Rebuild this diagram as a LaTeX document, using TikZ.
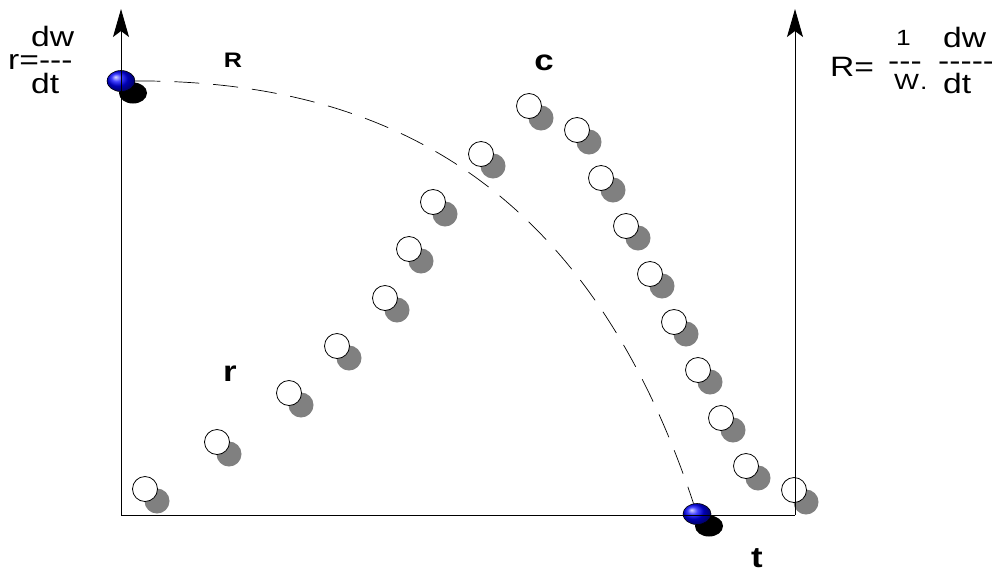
\documentclass[tikz,border=0pt]{standalone}
\usepackage{fontspec}
\setmainfont{Liberation Sans}[Ligatures=TeXOff]
\newfontfamily\wide{Liberation Sans}[Ligatures=TeXOff,FakeStretch=1.2]
\usetikzlibrary{arrows.meta,shapes.geometric,shadows}

\begin{document}
\begin{tikzpicture}[x=1pt,y=-1pt,>={Stealth[length=28pt,width=16pt,inset=6pt]},
  bead/.style={circle,draw,fill=white,line width=0.8pt,minimum size=25pt,inner sep=0pt,
    drop shadow={shadow xshift=12pt,shadow yshift=-12pt,fill=gray,opacity=1}},
  ball/.style={ellipse,draw,line width=0.6pt,minimum width=28pt,minimum height=21pt,
    inner sep=0pt,ball color=blue,
    drop shadow={shadow xshift=12pt,shadow yshift=-12pt,fill=black,opacity=1}},
  frm/.style={line width=0.9pt},
  eqn/.style={inner sep=0pt,anchor=base west,font=\wide\fontsize{28}{28}\selectfont},
  small/.style={inner sep=0pt,anchor=base west,font=\wide\fontsize{22}{22}\selectfont},
  tag/.style={inner sep=0pt,anchor=base,font=\wide\bfseries\fontsize{29}{29}\selectfont}]
  \useasboundingbox (0,0) rectangle (992,574);

  % rising row
  \node[bead] (r1) at (145,489) {};
  \node[bead] (r2) at (217,442) {};
  \node[bead] (r3) at (289,393) {};
  \node[bead] (r4) at (337,346) {};
  \node[bead] (r5) at (385,298) {};
  \node[bead] (r6) at (409,249) {};
  \node[bead] (r7) at (433,202) {};
  \node[bead] (r8) at (481,154) {};
  \node[bead] (r9) at (529,106) {};
  % falling row
  \node[bead] (c1) at (577,130) {};
  \node[bead] (c2) at (601,178) {};
  \node[bead] (c3) at (626,226) {};
  \node[bead] (c4) at (650,274) {};
  \node[bead] (c5) at (674,322) {};
  \node[bead] (c6) at (698,370) {};
  \node[bead] (c7) at (721,418) {};
  \node[bead] (c8) at (746,466) {};
  \node[bead] (c9) at (794,490) {};

  \node[ball] (ballR) at (121,81) {};
  \node[ball] (ballT) at (697,514) {};
  \draw[line width=0.7pt,dash pattern=on 25pt off 14pt]
    (ballR) .. controls (400,80) and (592,198) .. (ballT);

  \node[tag,font=\wide\bfseries\fontsize{21}{21}\selectfont] (lR) at (233,67) {R};
  \node[tag] (lc) at (544,70) {c};
  \node[tag] (lr) at (230,381) {r};
  \node[tag] (lt) at (757,567) {t};

  \node[eqn] (rEq) at (8,69) {r=---};
  \node[eqn] (rNum) at (31,46) {dw};
  \node[eqn] (rDen) at (31,93) {dt};
  \node[eqn] (REq) at (830,76) {R=};
  \node[small] (one) at (896,45) {1};
  \node[eqn] (bar1) at (888,70) {---};
  \node[small] (wDen) at (894,89) {W};
  \node[small] (dot) at (920,89) {.};
  \node[eqn] (RNum) at (943,47) {dw};
  \node[eqn] (bar2) at (938,70) {-----};
  \node[eqn] (RDen) at (943,93) {dt};

  \coordinate (o) at (121,515);
  \coordinate (tl) at (121,9);
  \coordinate (br) at (795,515);
  \coordinate (tr) at (795,9);
  \draw[frm,->] (o) -- (tl);
  \draw[frm,->] (br) -- (tr);
  \draw[frm] (o) -- (br);
\end{tikzpicture}
\end{document}
